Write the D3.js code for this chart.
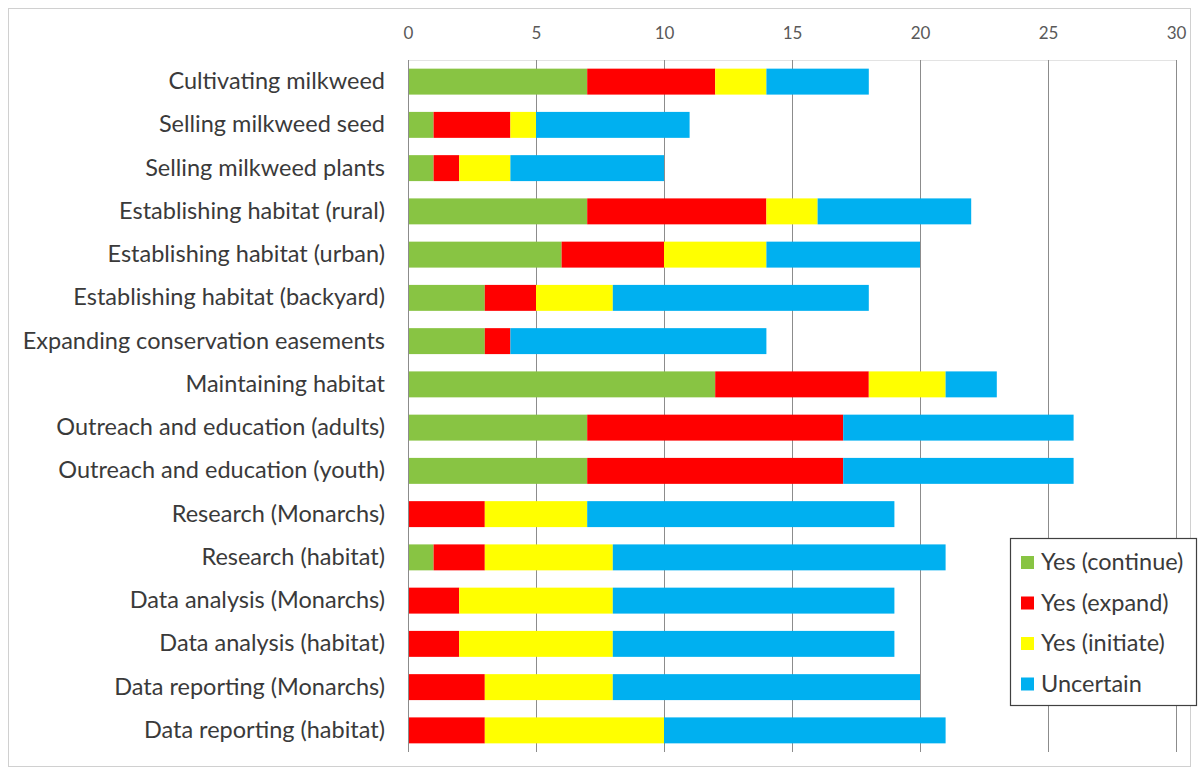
<!DOCTYPE html>
<html>
<head>
<meta charset="utf-8">
<script src="https://cdn.jsdelivr.net/npm/d3@7"></script>
<style>
  html, body { margin: 0; padding: 0; background: #fff; }
  svg { display: block; }
</style>
</head>
<body>
<svg id="chart" width="1199" height="769"></svg>
<script>
const categories = [
  "Cultivating milkweed",
  "Selling milkweed seed",
  "Selling milkweed plants",
  "Establishing habitat (rural)",
  "Establishing habitat (urban)",
  "Establishing habitat (backyard)",
  "Expanding conservation easements",
  "Maintaining habitat",
  "Outreach and education (adults)",
  "Outreach and education (youth)",
  "Research (Monarchs)",
  "Research (habitat)",
  "Data analysis (Monarchs)",
  "Data analysis (habitat)",
  "Data reporting (Monarchs)",
  "Data reporting (habitat)"
];
const seriesNames = ["Yes (continue)", "Yes (expand)", "Yes (initiate)", "Uncertain"];
const yesContinue = [7, 1, 1, 7, 6, 3, 3, 12, 7, 7, 0, 1, 0, 0, 0, 0];
const yesExpand   = [5, 3, 1, 7, 4, 2, 1, 6, 10, 10, 3, 2, 2, 2, 3, 3];
const yesInitiate = [2, 1, 2, 2, 4, 3, 0, 3, 0, 0, 4, 5, 6, 6, 5, 7];
const uncertain   = [4, 6, 6, 6, 6, 10, 10, 2, 9, 9, 12, 13, 11, 11, 12, 11];
const xTicks = [0, 5, 10, 15, 20, 25, 30];
const colors = ["#88C443", "#FF0000", "#FFFF00", "#00B0F0"];

const svg = d3.select("#chart");
const W = 1199, H = 769;
const margin = { left: 408, right: 1199 - 1176, top: 60, bottom: 769 - 752 };
const FONT = "Lato, 'Open Sans', sans-serif";

// outer chart border
svg.append("rect").attr("x", 8.5).attr("y", 8.5).attr("width", 1182).attr("height", 758)
  .attr("fill", "#fff").attr("stroke", "#d0d0d0").attr("stroke-width", 1);

const x = d3.scaleLinear().domain([0, 30]).range([margin.left, W - margin.right]);
const y = d3.scaleBand().domain(categories).range([margin.top, H - margin.bottom]).paddingInner(0.4).paddingOuter(0.2);

// plot area top border
svg.append("line").attr("x1", x(0)).attr("x2", x(30)).attr("y1", margin.top + 0.5).attr("y2", margin.top + 0.5)
  .attr("stroke", "#e3e3e3");

// gridlines
svg.append("g").selectAll("line").data(xTicks.slice(1)).join("line")
  .attr("x1", d => Math.round(x(d)) + 0.5).attr("x2", d => Math.round(x(d)) + 0.5)
  .attr("y1", margin.top).attr("y2", H - margin.bottom)
  .attr("stroke", "#8c8c8c").attr("stroke-width", 1);

// stacked data
const rows = categories.map((c, i) => ({
  cat: c,
  "Yes (continue)": yesContinue[i],
  "Yes (expand)": yesExpand[i],
  "Yes (initiate)": yesInitiate[i],
  "Uncertain": uncertain[i]
}));
const stack = d3.stack().keys(seriesNames)(rows);

svg.append("g").selectAll("g").data(stack).join("g")
  .attr("fill", (d, i) => colors[i])
  .selectAll("rect").data(d => d).join("rect")
  .attr("x", d => x(d[0]))
  .attr("width", d => x(d[1]) - x(d[0]))
  .attr("y", d => y(d.data.cat))
  .attr("height", y.bandwidth());

// left axis line
svg.append("line").attr("x1", x(0) + 0.5).attr("x2", x(0) + 0.5)
  .attr("y1", margin.top).attr("y2", H - margin.bottom).attr("stroke", "#8c8c8c");

// top axis labels
const xAxis = d3.axisTop(x).tickValues(xTicks).tickSize(0).tickPadding(0);
const gx = svg.append("g").attr("transform", `translate(0, 39)`).call(xAxis);
gx.select(".domain").remove();
gx.selectAll("text").attr("font-family", FONT)
  .attr("font-size", 17).attr("fill", "#595959");

// category labels
const yAxis = d3.axisLeft(y).tickSize(0).tickPadding(23);
const gy = svg.append("g").attr("transform", `translate(${x(0)},0)`).call(yAxis);
gy.select(".domain").remove();
gy.selectAll("text").attr("font-family", FONT)
  .attr("font-size", 23.5).attr("fill", "#3a3a3a");

// legend
const lg = svg.append("g").attr("transform", "translate(1010, 538)");
lg.append("rect").attr("x", 0.5).attr("y", 0.5).attr("width", 186).attr("height", 167)
  .attr("fill", "#fff").attr("stroke", "#404040").attr("stroke-width", 1.2);
const items = lg.selectAll("g.item").data(seriesNames).join("g").attr("class", "item")
  .attr("transform", (d, i) => `translate(0, ${24 + i * 40.5})`);
items.append("rect").attr("x", 11).attr("y", -6).attr("width", 13).attr("height", 13)
  .attr("fill", (d, i) => colors[i]);
items.append("text").attr("x", 31).attr("y", 0).attr("dy", "0.35em")
  .attr("font-family", FONT).attr("font-size", 23.5)
  .attr("fill", "#3a3a3a").text(d => d);
</script>
</body>
</html>
